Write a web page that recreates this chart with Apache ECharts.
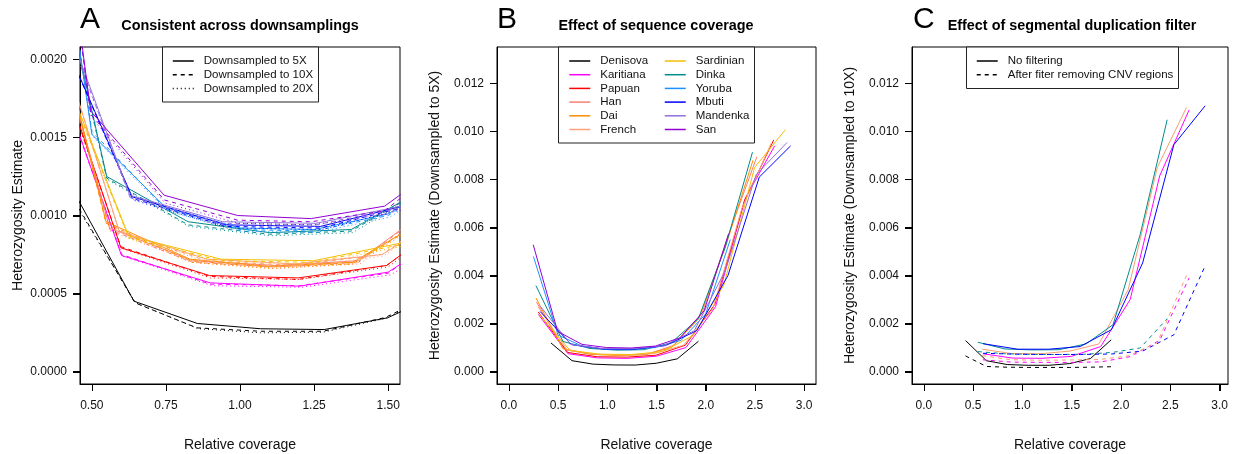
<!DOCTYPE html>
<html><head><meta charset="utf-8">
<script src="https://cdn.jsdelivr.net/npm/echarts@6/dist/echarts.min.js"></script>
<style>html,body{margin:0;padding:0;background:#fff}#c{width:1235px;height:454px;background:#fff}</style>
</head><body><div id="c"></div>
<script>
// ---------- categories ----------
const popNames  = ['Denisova','Karitiana','Papuan','Han','Dai','French','Sardinian','Dinka','Yoruba','Mbuti','Mandenka','San'];
const popColors = ['#000000','#FF00FF','#FF0000','#FA8072','#FF8C00','#FFA07A','#F5BD02','#008B8B','#1E90FF','#0000FF','#9370DB','#9400D3'];
const legendA = ['Downsampled to 5X','Downsampled to 10X','Downsampled to 20X'];
const legendC = ['No filtering','After fiter removing CNV regions'];
const titles  = ['Consistent across downsamplings','Effect of sequence coverage','Effect of segmental duplication filter'];
const letters = ['A','B','C'];
const xTitle  = 'Relative coverage';
const yTitles = ['Heterozygosity Estimate','Heterozygosity Estimate (Downsampled to 5X)','Heterozygosity Estimate (Downsampled to 10X)'];

// ---------- tick values ----------
const ticksAx = [0.5,0.75,1.0,1.25,1.5];
const ticksAy = [0,0.0005,0.001,0.0015,0.002];
const ticksBx = [0,0.5,1,1.5,2,2.5,3];
const ticksBy = [0,0.002,0.004,0.006,0.008,0.010,0.012];

// ---------- downsampled to 5X (relative coverage, heterozygosity) ----------
const denisova5x  = [0.428,0.642,0.856,1.07,1.284,1.498,1.712,1.926];
const denisova5y  = [0.00119,0.000451,0.000308,0.000274,0.000269,0.000344,0.00053,0.00126];
const karitiana5x = [0.3,0.6,0.9,1.2,1.5,1.8,2.1,2.4,2.7];
const karitiana5y = [0.00238,0.000744,0.000568,0.000547,0.000637,0.00100,0.0027,0.0072,0.0094];
const papuan5x    = [0.299,0.598,0.897,1.196,1.495,1.794,2.093,2.392,2.691];
const papuan5y    = [0.00248,0.000793,0.000615,0.0006,0.00068,0.0011,0.0028,0.0071,0.00965];
const han5x       = [0.28,0.56,0.84,1.12,1.4,1.68,1.96,2.24,2.52];
const han5y       = [0.0029,0.00092,0.00071,0.00068,0.00071,0.0011,0.0024,0.0058,0.00895];
const dai5x       = [0.276,0.548,0.831,1.095,1.38,1.65,1.93,2.2,2.48];
const dai5y       = [0.00306,0.00096,0.00072,0.000675,0.0007,0.0010,0.0022,0.0052,0.0088];
const french5x    = [0.296,0.592,0.888,1.184,1.48,1.776,2.072,2.368,2.664];
const french5y    = [0.0027,0.00090,0.00072,0.00069,0.00075,0.0011,0.0026,0.0068,0.0095];
const sardinian5x = [0.312,0.624,0.936,1.248,1.56,1.872,2.184,2.496,2.808];
const sardinian5y = [0.00236,0.00087,0.00072,0.00071,0.00083,0.0015,0.0036,0.0085,0.01007];
const dinka5x     = [0.275,0.55,0.825,1.1,1.375,1.65,1.925,2.2,2.475];
const dinka5y     = [0.00358,0.00125,0.00096,0.00089,0.00091,0.0012,0.0022,0.0052,0.00914];
const yoruba5x    = [0.25,0.5,0.75,1.0,1.25,1.5,1.75,2.0,2.25];
const yoruba5y    = [0.00479,0.00152,0.00105,0.00092,0.00091,0.00101,0.0013,0.0024,0.0055];
const mbuti5x     = [0.318,0.636,0.954,1.272,1.59,1.908,2.226,2.544,2.862];
const mbuti5y     = [0.0025,0.00112,0.00094,0.00093,0.00108,0.0017,0.0040,0.0081,0.0094];
const mandenka5x  = [0.314,0.628,0.942,1.256,1.57,1.884,2.198,2.512,2.826];
const mandenka5y  = [0.00275,0.00113,0.00096,0.00095,0.00107,0.0017,0.0042,0.0082,0.00954];
const san5x       = [0.248,0.496,0.744,0.992,1.24,1.488,1.736,1.984,2.232];
const san5y       = [0.00528,0.00167,0.00113,0.00100,0.00098,0.00106,0.00140,0.00253,0.00574];

// ---------- downsampled to 10X (panel A range) ----------
const denisova10x  = [0.43,0.646,0.854,1.07,1.28,1.49,1.70];
const denisova10y  = [0.00113,0.00044,0.00028,0.000258,0.000258,0.000346,0.00054];
const karitiana10x = [0.3,0.6,0.9,1.2,1.5,1.8];
const karitiana10y = [0.00236,0.00075,0.00056,0.00055,0.00063,0.00104];
const papuan10x    = [0.299,0.598,0.897,1.196,1.495,1.794];
const papuan10y    = [0.00245,0.00080,0.00061,0.00059,0.00068,0.0011];
const han10x       = [0.28,0.56,0.84,1.12,1.4,1.68];
const han10y       = [0.0029,0.00091,0.00070,0.00067,0.00070,0.0011];
const dai10x       = [0.276,0.548,0.831,1.095,1.38,1.65];
const dai10y       = [0.00304,0.00095,0.00071,0.00067,0.00069,0.0010];
const french10x    = [0.296,0.592,0.888,1.184,1.48,1.776];
const french10y    = [0.0027,0.00090,0.00071,0.00068,0.00075,0.00115];
const sardinian10x = [0.312,0.624,0.936,1.248,1.56,1.872];
const sardinian10y = [0.00234,0.00086,0.00071,0.00070,0.00082,0.0015];
const dinka10x     = [0.275,0.55,0.825,1.1,1.375,1.65];
const dinka10y     = [0.00355,0.00124,0.00094,0.00088,0.00090,0.0012];
const yoruba10x    = [0.25,0.5,0.75,1.0,1.25,1.5,1.75];
const yoruba10y    = [0.00475,0.00154,0.00104,0.00091,0.00090,0.00100,0.0013];
const mbuti10x     = [0.318,0.636,0.954,1.272,1.59,1.908];
const mbuti10y     = [0.0025,0.00111,0.00093,0.00092,0.00107,0.0017];
const mandenka10x  = [0.314,0.628,0.942,1.256,1.57,1.884];
const mandenka10y  = [0.00272,0.00112,0.00095,0.00094,0.00106,0.0017];
const san10x       = [0.248,0.496,0.744,0.992,1.24,1.488,1.736];
const san10y       = [0.0052,0.00165,0.00110,0.00097,0.00096,0.00103,0.0014];

// ---------- downsampled to 20X (panel A range) ----------
const denisova20x  = [0.432,0.648,0.858,1.07,1.28,1.49,1.70];
const denisova20y  = [0.00111,0.00044,0.000275,0.000248,0.000252,0.00034,0.00053];
const karitiana20x = [0.302,0.604,0.906,1.208,1.51,1.812];
const karitiana20y = [0.00233,0.00074,0.00055,0.00054,0.00062,0.0010];
const papuan20x    = [0.3,0.6,0.9,1.2,1.5,1.8];
const papuan20y    = [0.00243,0.00079,0.00060,0.00059,0.00067,0.0011];
const han20x       = [0.281,0.562,0.843,1.124,1.405,1.686];
const han20y       = [0.00288,0.00090,0.00070,0.00066,0.00069,0.0011];
const dai20x       = [0.277,0.55,0.833,1.1,1.385,1.66];
const dai20y       = [0.00302,0.00094,0.00070,0.00066,0.00069,0.0010];
const french20x    = [0.297,0.594,0.891,1.188,1.485,1.782];
const french20y    = [0.00268,0.00089,0.00070,0.00067,0.00074,0.00114];
const sardinian20x = [0.313,0.626,0.939,1.252,1.565,1.878];
const sardinian20y = [0.00233,0.00085,0.00070,0.00069,0.00081,0.0015];
const dinka20x     = [0.276,0.552,0.828,1.104,1.38,1.656];
const dinka20y     = [0.00352,0.00123,0.00093,0.00087,0.00089,0.0012];
const yoruba20x    = [0.251,0.502,0.753,1.004,1.255,1.506,1.757];
const yoruba20y    = [0.00472,0.00151,0.00103,0.00090,0.00089,0.00099,0.0013];
const mbuti20x     = [0.319,0.638,0.957,1.276,1.595,1.914];
const mbuti20y     = [0.0025,0.00110,0.00092,0.00091,0.00106,0.0017];
const mandenka20x  = [0.315,0.63,0.945,1.26,1.575,1.89];
const mandenka20y  = [0.0027,0.00111,0.00094,0.00093,0.00105,0.0017];
const san20x       = [0.249,0.498,0.747,0.996,1.245,1.494,1.743];
const san20y       = [0.00515,0.00163,0.00108,0.00095,0.00094,0.00101,0.0014];

// ---------- panel C: downsampled to 10X, unfiltered vs filtered ----------
const popsC   = ['Denisova','Karitiana','French','Dinka','Mbuti'];
const colorsC = ['#000000','#FF00FF','#F4A070','#008B8B','#0000FF'];
const denisovaCx  = [0.423,0.635,0.846,1.058,1.27,1.48,1.69,1.90];
const denisovaCy  = [0.00129,0.00045,0.00029,0.00026,0.00026,0.00033,0.00054,0.00132];
const denisovaFy  = [0.00065,0.00021,0.00018,0.00017,0.00017,0.00017,0.00018,0.0002];
const karitianaCx = [0.598,0.897,1.196,1.495,1.794,2.093,2.392,2.691];
const karitianaCy = [0.00074,0.00056,0.00055,0.00063,0.00104,0.0030,0.00815,0.0109];
const karitianaFy = [0.00049,0.00039,0.00038,0.00038,0.00040,0.00062,0.0013,0.0039];
const frenchCx    = [0.592,0.888,1.184,1.48,1.776,2.072,2.368,2.664];
const frenchCy    = [0.00093,0.00075,0.00074,0.00085,0.00115,0.0034,0.0085,0.0110];
const frenchFy    = [0.00066,0.00049,0.00047,0.00048,0.00050,0.00065,0.0012,0.0040];
const dinkaCx     = [0.548,0.823,1.097,1.371,1.645,1.919,2.194,2.468];
const dinkaCy     = [0.00122,0.00094,0.00090,0.00091,0.00115,0.00195,0.0057,0.01049];
const dinkaFy     = [0.00083,0.00074,0.00071,0.00071,0.00072,0.00080,0.00098,0.0022];
const mbutiCx     = [0.600,0.951,1.268,1.585,1.902,2.219,2.536,2.853];
const mbutiCy     = [0.00116,0.00093,0.00093,0.00104,0.00174,0.00452,0.00945,0.01107];
const mbutiFy     = [0.00076,0.00072,0.00071,0.00071,0.00073,0.00085,0.00153,0.0044];

// ---------- assembly ----------
const cov5  = [denisova5x,karitiana5x,papuan5x,han5x,dai5x,french5x,sardinian5x,dinka5x,yoruba5x,mbuti5x,mandenka5x,san5x];
const het5  = [denisova5y,karitiana5y,papuan5y,han5y,dai5y,french5y,sardinian5y,dinka5y,yoruba5y,mbuti5y,mandenka5y,san5y];
const cov10 = [denisova10x,karitiana10x,papuan10x,han10x,dai10x,french10x,sardinian10x,dinka10x,yoruba10x,mbuti10x,mandenka10x,san10x];
const het10 = [denisova10y,karitiana10y,papuan10y,han10y,dai10y,french10y,sardinian10y,dinka10y,yoruba10y,mbuti10y,mandenka10y,san10y];
const cov20 = [denisova20x,karitiana20x,papuan20x,han20x,dai20x,french20x,sardinian20x,dinka20x,yoruba20x,mbuti20x,mandenka20x,san20x];
const het20 = [denisova20y,karitiana20y,papuan20y,han20y,dai20y,french20y,sardinian20y,dinka20y,yoruba20y,mbuti20y,mandenka20y,san20y];
const covC  = [denisovaCx,karitianaCx,frenchCx,dinkaCx,mbutiCx];
const hetC  = [denisovaCy,karitianaCy,frenchCy,dinkaCy,mbutiCy];
const hetF  = [denisovaFy,karitianaFy,frenchFy,dinkaFy,mbutiFy];

const FONT = "'Liberation Sans', Arial, Helvetica, sans-serif";
const pts = (xs, ys) => xs.map((x, i) => [x, ys[i]]);
const DASH = [4, 4], DOT = [1, 3];
const TICK_LEN = 7;

function line(name, xi, data, color, type) {
  return { name, type: 'line', xAxisIndex: xi, yAxisIndex: xi, data, showSymbol: false, symbol: 'none',
    clip: true, silent: true, animation: false,
    lineStyle: { color, width: 1, type: type || 'solid' }, itemStyle: { color } };
}

const xRange = [[0.46, 1.54], [-0.12, 3.12], [-0.12, 3.085]];
const yRange = [[-0.00008, 0.00208], [-0.00052, 0.01352], [-0.00052, 0.01352]];
const xTicks = [ticksAx, ticksBx, ticksBx];
const yTicks = [ticksAy, ticksBy, ticksBy];
const xDec = [2, 1, 1], yDec = [4, 3, 3];

const series = [];
series.push(line(legendA[0], 0, [], '#000', 'solid'));
series.push(line(legendA[1], 0, [], '#000', DASH));
series.push(line(legendA[2], 0, [], '#000', DOT));
series.push(line(legendC[0], 2, [], '#000', 'solid'));
series.push(line(legendC[1], 2, [], '#000', DASH));
popNames.forEach((p, i) => series.push(line(p, 1, pts(cov5[i], het5[i]), popColors[i])));
popNames.forEach((p, i) => {
  series.push(line('A20 ' + p, 0, pts(cov20[i], het20[i]), popColors[i], DOT));
  series.push(line('A10 ' + p, 0, pts(cov10[i], het10[i]), popColors[i], DASH));
  series.push(line('A5 ' + p, 0, pts(cov5[i], het5[i]), popColors[i]));
});
popsC.forEach((p, i) => {
  series.push(line('CF ' + p, 2, pts(covC[i], hetF[i]), colorsC[i], DASH));
  series.push(line('CU ' + p, 2, pts(covC[i], hetC[i]), colorsC[i]));
});

// axis tick marks, placed through the axes' own scales (api.coord)
[0, 1, 2].forEach(i => {
  series.push({ type: 'custom', name: 'xticks' + i, xAxisIndex: i, yAxisIndex: i, clip: false, silent: true, z: 3,
    data: xTicks[i].map(v => [v, yRange[i][0]]),
    renderItem: (params, api) => {
      const p = api.coord([api.value(0), api.value(1)]);
      const x = Math.round(p[0]) + 0.5, y = Math.round(p[1]);
      return { type: 'line', shape: { x1: x, y1: y, x2: x, y2: y + TICK_LEN }, style: { stroke: '#000', lineWidth: 1 } };
    } });
  series.push({ type: 'custom', name: 'yticks' + i, xAxisIndex: i, yAxisIndex: i, clip: false, silent: true, z: 3,
    data: yTicks[i].map(v => [xRange[i][0], v]),
    renderItem: (params, api) => {
      const p = api.coord([api.value(0), api.value(1)]);
      const x = Math.round(p[0]), y = Math.round(p[1]) + 0.5;
      return { type: 'line', shape: { x1: x - TICK_LEN, y1: y, x2: x, y2: y }, style: { stroke: '#000', lineWidth: 1 } };
    } });
});

const grids = [
  { left: 80,  top: 47, width: 320, height: 337 },
  { left: 497, top: 47, width: 319, height: 337 },
  { left: 912, top: 47, width: 316, height: 337 }
];
grids.forEach(g => { g.show = true; g.borderColor = '#000'; g.outerBoundsMode = 'none'; });

const xAxis = [], yAxis = [];
[0, 1, 2].forEach(i => {
  xAxis.push({ type: 'value', gridIndex: i, min: xRange[i][0], max: xRange[i][1],
    axisLine: { show: true, onZero: false, lineStyle: { color: '#000' } },
    axisTick: { show: true, length: TICK_LEN, customValues: xTicks[i], lineStyle: { color: '#000' } },
    axisLabel: { customValues: xTicks[i], formatter: v => v.toFixed(xDec[i]), margin: 16, fontSize: 12, color: '#111', fontFamily: FONT },
    splitLine: { show: false } });
  yAxis.push({ type: 'value', gridIndex: i, min: yRange[i][0], max: yRange[i][1],
    axisLine: { show: true, onZero: false, lineStyle: { color: '#000' } },
    axisTick: { show: true, length: TICK_LEN, customValues: yTicks[i], lineStyle: { color: '#000' } },
    axisLabel: { customValues: yTicks[i], formatter: v => v.toFixed(yDec[i]), margin: 13, fontSize: 12, color: '#111', fontFamily: FONT },
    splitLine: { show: false } });
});

const legTxt = { fontSize: 11.5, color: '#111', fontFamily: FONT, lineHeight: 12, padding: [0, 0, 0, 5] };
function legend(data, left) {
  return { data, left, top: 55, orient: 'vertical', padding: 0, itemGap: 1.7, itemWidth: 21, itemHeight: 12,
    selectedMode: false, textStyle: legTxt, lineStyle: { width: 1.5 }, itemStyle: { opacity: 0 } };
}

const titleFont = 'bold 14.4px ' + FONT;
const letterFont = '30px ' + FONT;
const nameFont = '14px ' + FONT;
const letterX = [80, 497, 913];
const titleX = [240, 656, 1072];
const xNameX = [240, 656.5, 1070];
const yNameX = [18, 435, 850];
const graphic = [];
graphic.push({ type: 'rect', shape: { x: 162.5, y: 47, width: 156, height: 55 }, style: { fill: '#fff', stroke: '#222', lineWidth: 1 } });
graphic.push({ type: 'rect', shape: { x: 558.5, y: 47, width: 196, height: 96 }, style: { fill: '#fff', stroke: '#222', lineWidth: 1 } });
graphic.push({ type: 'rect', shape: { x: 966.5, y: 47, width: 212, height: 41.5 }, style: { fill: '#fff', stroke: '#222', lineWidth: 1 } });
[0, 1, 2].forEach(i => {
  graphic.push({ type: 'text', x: letterX[i], y: 20, style: { text: letters[i], font: letterFont, fill: '#000', textVerticalAlign: 'middle' } });
  graphic.push({ type: 'text', x: titleX[i], y: 26.5, style: { text: titles[i], font: titleFont, fill: '#000', textAlign: 'center', textVerticalAlign: 'middle' } });
  graphic.push({ type: 'text', x: xNameX[i], y: 445, style: { text: xTitle, font: nameFont, fill: '#111', textAlign: 'center', textVerticalAlign: 'middle' } });
  graphic.push({ type: 'text', x: yNameX[i], y: 215.5, rotation: Math.PI / 2, style: { text: yTitles[i], font: nameFont, fill: '#111', textAlign: 'center', textVerticalAlign: 'middle' } });
});

const option = {
  animation: false,
  grid: grids,
  xAxis, yAxis,
  legend: [ legend(legendA, 172), legend(popNames.slice(0, 6), 568.5), legend(popNames.slice(6), 664), legend(legendC, 976) ],
  graphic,
  series
};
const chart = echarts.init(document.getElementById('c'), null, { renderer: 'canvas' });
chart.setOption(option);
</script></body></html>
